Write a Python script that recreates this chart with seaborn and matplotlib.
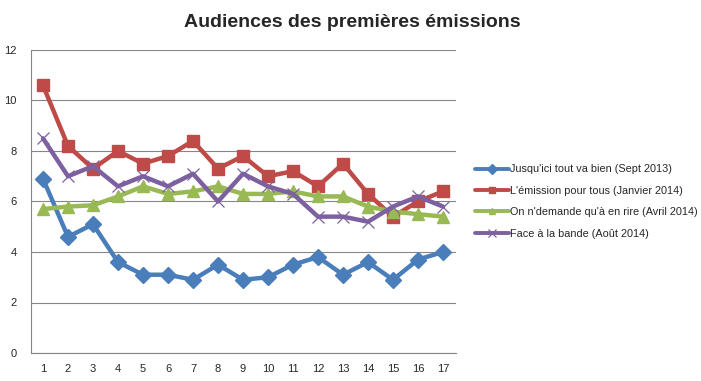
import pandas as pd
import matplotlib
matplotlib.use("Agg")
import matplotlib.pyplot as plt
import seaborn as sns
from matplotlib.ticker import MultipleLocator, FixedLocator, NullFormatter

# ==========================================
# DATA
# ==========================================
episodes = list(range(1, 18))
series_names = [
    "Jusqu'ici tout va bien (Sept 2013)",
    "L'émission pour tous (Janvier 2014)",
    "On n'demande qu'à en rire (Avril 2014)",
    "Face à la bande (Août 2014)",
]
jusquici = [6.9, 4.6, 5.1, 3.6, 3.1, 3.1, 2.9, 3.5, 2.9, 3.0, 3.5, 3.8, 3.1, 3.6, 2.9, 3.7, 4.0]
emission_pour_tous = [10.6, 8.2, 7.3, 8.0, 7.5, 7.8, 8.4, 7.3, 7.8, 7.0, 7.2, 6.6, 7.5, 6.3, 5.4, 6.0, 6.4]
ondar = [5.7, 5.8, 5.85, 6.2, 6.6, 6.3, 6.4, 6.6, 6.3, 6.3, 6.4, 6.2, 6.2, 5.8, 5.6, 5.5, 5.4]
face_bande = [8.5, 7.0, 7.4, 6.6, 7.0, 6.6, 7.1, 6.0, 7.1, 6.6, 6.3, 5.4, 5.4, 5.2, 5.8, 6.2, 5.8]

colors = ["#4A7EBB", "#BE4B48", "#98B954", "#7D60A0"]
markers = ["D", "s", "^", "x"]

df = pd.DataFrame({
    "Episode": episodes * 4,
    "Audience": jusquici + emission_pour_tous + ondar + face_bande,
    "Serie": sum([[n] * len(episodes) for n in series_names], []),
})

sns.set_style("white")
plt.rcParams["font.family"] = ["Liberation Sans", "DejaVu Sans"]

fig = plt.figure(figsize=(7.01, 3.81), dpi=100)
ax = fig.add_axes([30.5 / 701, 28 / 381, 425 / 701, 303 / 381])

for name, col, mk in zip(series_names, colors, markers):
    sub = df[df["Serie"] == name]
    ms = 8 if mk != "x" else 9
    sns.lineplot(data=sub, x="Episode", y="Audience", ax=ax, color=col,
                 linewidth=3.2, marker=mk, markersize=ms, markeredgecolor=col,
                 markeredgewidth=1 if mk != "x" else 0.9, label=name)

ax.set_xlim(0.5, 17.5)
ax.set_ylim(0, 12)
ax.yaxis.set_major_locator(MultipleLocator(2))
ax.xaxis.set_major_locator(FixedLocator(episodes))
ax.xaxis.set_minor_locator(FixedLocator([e + 0.5 for e in range(0, 18)]))
ax.xaxis.set_minor_formatter(NullFormatter())
ax.tick_params(axis="x", which="major", length=0, labelsize=8, pad=8)
ax.tick_params(axis="x", which="minor", length=4, color="#868686", width=0.8)
ax.tick_params(axis="y", which="major", length=0, labelsize=8, pad=10)
ax.set_xlabel("")
ax.set_ylabel("")
ax.grid(axis="y", color="#868686", linewidth=0.8)
ax.set_axisbelow(True)
for side in ["top", "right"]:
    ax.spines[side].set_visible(False)
for side in ["left", "bottom"]:
    ax.spines[side].set_color("#868686")
    ax.spines[side].set_linewidth(0.8)

leg = ax.legend(loc="center left", bbox_to_anchor=(1.035, 0.5), frameon=False,
                fontsize=7.8, handlelength=3.2, handletextpad=0.1, labelspacing=1.05,
                borderaxespad=0, markerscale=0.6)
for line in leg.get_lines():
    line.set_linewidth(2.8)

fig.text(0.502, 0.94, "Audiences des premières émissions", ha="center", va="center",
         fontsize=14, fontweight="bold",
         family=["Liberation Sans", "DejaVu Sans"])

fig.savefig("out.png", dpi=100)
